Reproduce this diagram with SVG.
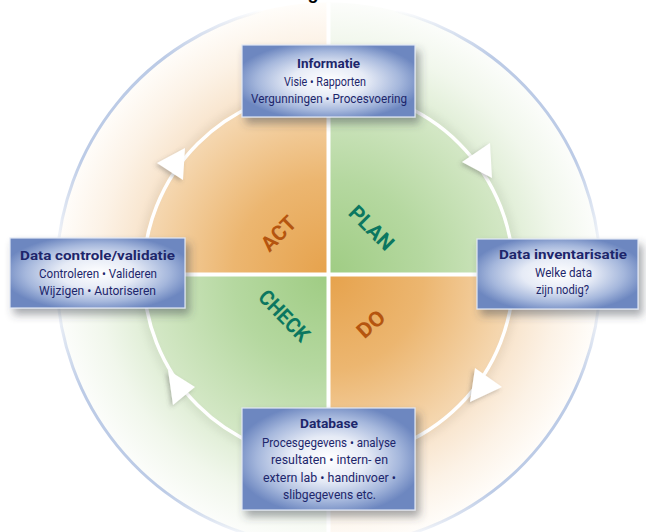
<svg xmlns="http://www.w3.org/2000/svg" width="646" height="532" viewBox="0 0 646 532">
<style>
.title{font-family:'Liberation Sans Narrow',Roboto,'Liberation Sans',sans-serif;font-weight:bold;font-size:12.5px;fill:#1d266b;text-anchor:middle;}
.body{font-family:'Liberation Sans Narrow',Roboto,'Liberation Sans',sans-serif;font-size:13.5px;fill:#1d266b;text-anchor:middle;}
.box{fill:url(#boxGrad);stroke:#dfe6f3;stroke-width:1.2;filter:url(#shadow);}
.qlabel{font-family:Roboto,'Liberation Sans',sans-serif;font-weight:bold;font-size:21px;text-anchor:middle;}
.orange{fill:#b5550f;}
.green{fill:#0b7760;}
.arrow{fill:#ffffff;filter:url(#ashadow);}
.outer{fill:none;stroke-width:3;}
</style>
<defs>
<radialGradient id="gOrange" gradientUnits="userSpaceOnUse" cx="328.5" cy="274.5" r="272">
<stop offset="0" stop-color="#e6a24c"/>
<stop offset="0.35" stop-color="#ecb670"/>
<stop offset="0.67" stop-color="#f5d7b0"/>
<stop offset="0.70" stop-color="#f8e4cc"/>
<stop offset="0.85" stop-color="#fcf2e6"/>
<stop offset="1" stop-color="#fffdfa"/>
</radialGradient>
<radialGradient id="gGreen" gradientUnits="userSpaceOnUse" cx="328.5" cy="274.5" r="272">
<stop offset="0" stop-color="#9fcc83"/>
<stop offset="0.35" stop-color="#b5d8a0"/>
<stop offset="0.67" stop-color="#d3e7c5"/>
<stop offset="0.70" stop-color="#e0eed6"/>
<stop offset="0.85" stop-color="#f1f7ec"/>
<stop offset="1" stop-color="#fcfdfb"/>
</radialGradient>
<radialGradient id="boxGrad" cx="0.5" cy="0.5" r="0.55">
<stop offset="0" stop-color="#ffffff"/>
<stop offset="0.4" stop-color="#e6ebf6"/>
<stop offset="0.75" stop-color="#a5b7dc"/>
<stop offset="1" stop-color="#6d87c0"/>
</radialGradient>
<linearGradient id="fTL" gradientUnits="userSpaceOnUse" x1="56.7" y1="265" x2="262.7" y2="10.6">
<stop offset="0" stop-color="#bccbe6" stop-opacity="0"/>
<stop offset="0.3" stop-color="#bccbe6"/>
<stop offset="0.7" stop-color="#bccbe6"/>
<stop offset="1" stop-color="#bccbe6" stop-opacity="0"/>
</linearGradient>
<linearGradient id="fTR" gradientUnits="userSpaceOnUse" x1="394.3" y1="10.6" x2="600.3" y2="265">
<stop offset="0" stop-color="#bccbe6" stop-opacity="0"/>
<stop offset="0.3" stop-color="#bccbe6"/>
<stop offset="0.7" stop-color="#bccbe6"/>
<stop offset="1" stop-color="#bccbe6" stop-opacity="0"/>
</linearGradient>
<linearGradient id="fBR" gradientUnits="userSpaceOnUse" x1="600.3" y1="284" x2="394.3" y2="538.4">
<stop offset="0" stop-color="#bccbe6" stop-opacity="0"/>
<stop offset="0.3" stop-color="#bccbe6"/>
<stop offset="0.7" stop-color="#bccbe6"/>
<stop offset="1" stop-color="#bccbe6" stop-opacity="0"/>
</linearGradient>
<linearGradient id="fBL" gradientUnits="userSpaceOnUse" x1="262.7" y1="538.4" x2="56.7" y2="284">
<stop offset="0" stop-color="#bccbe6" stop-opacity="0"/>
<stop offset="0.3" stop-color="#bccbe6"/>
<stop offset="0.7" stop-color="#bccbe6"/>
<stop offset="1" stop-color="#bccbe6" stop-opacity="0"/>
</linearGradient>
<filter id="shadow" x="-20%" y="-20%" width="150%" height="160%">
<feDropShadow dx="4" dy="6" stdDeviation="4" flood-color="#3a3f4a" flood-opacity="0.45"/>
</filter>
<filter id="ashadow" x="-50%" y="-50%" width="200%" height="200%">
<feDropShadow dx="-2" dy="2" stdDeviation="2" flood-color="#555" flood-opacity="0.35"/>
</filter>
<filter id="blur3"><feGaussianBlur stdDeviation="3"/></filter>
</defs>

<rect width="646" height="532" fill="#ffffff"/>

<g id="quadrants">
<path d="M328.5,274.5 L56.5,274.5 A272,272 0 0 1 328.5,2.5 Z" fill="url(#gOrange)"/>
<path d="M328.5,274.5 L328.5,2.5 A272,272 0 0 1 600.5,274.5 Z" fill="url(#gGreen)"/>
<path d="M328.5,274.5 L600.5,274.5 A272,272 0 0 1 328.5,546.5 Z" fill="url(#gOrange)"/>
<path d="M328.5,274.5 L328.5,546.5 A272,272 0 0 1 56.5,274.5 Z" fill="url(#gGreen)"/>
<circle cx="328.5" cy="274.5" r="189" fill="none" stroke="#7a7a7a" stroke-width="5" opacity="0.12" filter="url(#blur3)"/>
<path class="outer" d="M56.7,265 A272,272 0 0 1 262.7,10.6" stroke="url(#fTL)"/>
<path class="outer" d="M394.3,10.6 A272,272 0 0 1 600.3,265" stroke="url(#fTR)"/>
<path class="outer" d="M600.3,284 A272,272 0 0 1 394.3,538.4" stroke="url(#fBR)"/>
<path class="outer" d="M262.7,538.4 A272,272 0 0 1 56.7,284" stroke="url(#fBL)"/>
<line x1="328.5" y1="2.5" x2="328.5" y2="546.5" stroke="#ffffff" stroke-width="4"/>
<line x1="56.5" y1="274.5" x2="600.5" y2="274.5" stroke="#ffffff" stroke-width="4"/>
<text class="qlabel orange" transform="translate(278.3,233.3) rotate(-45)" y="7.5" textLength="40" lengthAdjust="spacingAndGlyphs">ACT</text>
<text class="qlabel green" transform="translate(371.7,227.7) rotate(45)" y="7.5" textLength="54" lengthAdjust="spacingAndGlyphs">PLAN</text>
<text class="qlabel green" transform="translate(284.3,315.7) rotate(46)" y="7.5" textLength="63" lengthAdjust="spacingAndGlyphs">CHECK</text>
<text class="qlabel orange" transform="translate(370.7,324) rotate(-42)" y="7.5" textLength="30" lengthAdjust="spacingAndGlyphs">DO</text>
</g>

<g id="connectors">
<circle cx="328.5" cy="274.5" r="185" fill="none" stroke="#ffffff" stroke-width="3.5"/>
<polygon class="arrow" points="157,163 185,148 183,180"/>
<polygon class="arrow" points="462,162 490,143 492,178"/>
<polygon class="arrow" points="475,368 502,387 470,402"/>
<polygon class="arrow" points="168,370 195,387 173,405"/>
</g>

<g id="node-informatie">
<rect class="box" x="242" y="45" width="173" height="72"/>
<text class="title" x="328.5" y="68" textLength="63" lengthAdjust="spacingAndGlyphs">Informatie</text>
<text class="body" x="325" y="86" textLength="82" lengthAdjust="spacingAndGlyphs">Visie • Rapporten</text>
<text class="body" x="329" y="103" textLength="156" lengthAdjust="spacingAndGlyphs">Vergunningen • Procesvoering</text>
</g>

<g id="node-controle">
<rect class="box" x="10" y="238" width="175" height="70"/>
<text class="title" x="97.5" y="260" textLength="155" lengthAdjust="spacingAndGlyphs">Data controle/validatie</text>
<text class="body" x="98" y="278" textLength="118" lengthAdjust="spacingAndGlyphs">Controleren • Valideren</text>
<text class="body" x="97.5" y="295" textLength="117" lengthAdjust="spacingAndGlyphs">Wijzigen • Autoriseren</text>
</g>

<g id="node-inventarisatie">
<rect class="box" x="477" y="239" width="161" height="70"/>
<text class="title" x="563" y="259" textLength="128" lengthAdjust="spacingAndGlyphs">Data inventarisatie</text>
<text class="body" x="563.5" y="277" textLength="57" lengthAdjust="spacingAndGlyphs">Welke data</text>
<text class="body" x="562.5" y="293.5" textLength="53" lengthAdjust="spacingAndGlyphs">zijn nodig?</text>
</g>

<g id="node-database">
<rect class="box" x="242" y="408" width="173" height="102"/>
<text class="title" x="329" y="428" textLength="58" lengthAdjust="spacingAndGlyphs">Database</text>
<text class="body" x="329" y="446.5" textLength="134" lengthAdjust="spacingAndGlyphs">Procesgegevens • analyse</text>
<text class="body" x="329.5" y="464" textLength="117" lengthAdjust="spacingAndGlyphs">resultaten • intern- en</text>
<text class="body" x="329.5" y="481.5" textLength="133" lengthAdjust="spacingAndGlyphs">extern lab • handinvoer •</text>
<text class="body" x="329.5" y="499" textLength="93" lengthAdjust="spacingAndGlyphs">slibgegevens etc.</text>
</g>

<text x="313" y="-1" font-family="'Liberation Sans',sans-serif" font-weight="bold" font-size="18" text-anchor="middle" fill="#000">g</text>
</svg>
